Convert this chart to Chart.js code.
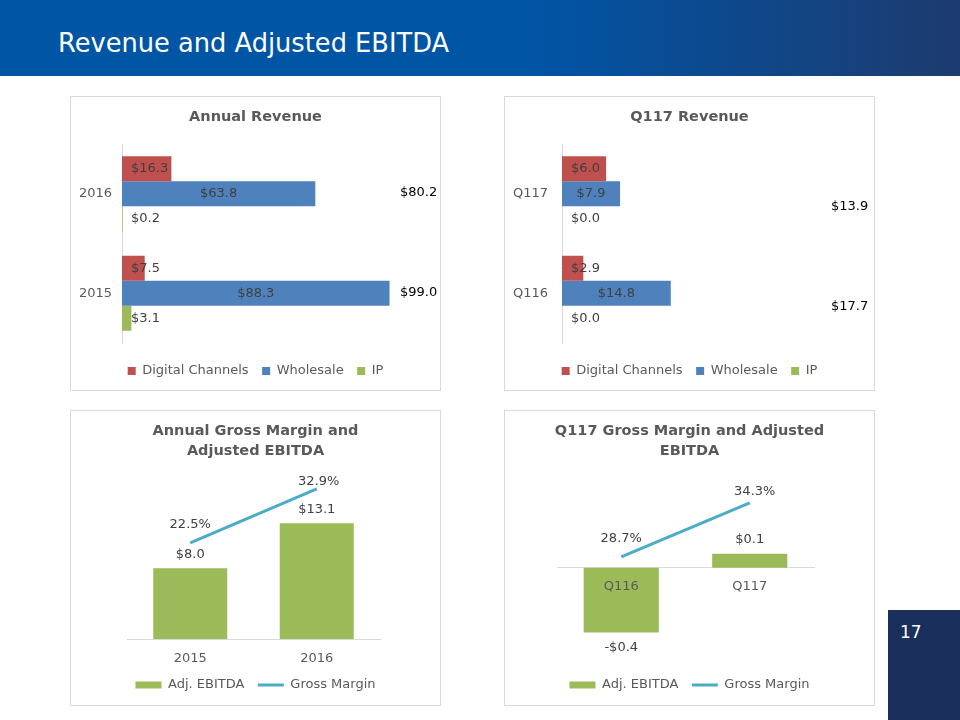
<!DOCTYPE html>
<html>
<head>
<meta charset="utf-8">
<title>Revenue and Adjusted EBITDA</title>
<script src="https://cdn.jsdelivr.net/npm/chart.js@4.4.0/dist/chart.umd.min.js"></script>
<style>
  body {
    margin: 0;
    width: 960px;
    height: 720px;
    position: relative;
    overflow: hidden;
    background: #fff;
    font-family: "DejaVu Sans", sans-serif;
  }
  #header {
    position: absolute;
    left: 0; top: 0;
    width: 960px; height: 76px;
    background: linear-gradient(90deg, #0055a5 0%, #0055a5 55%, #1d3b6f 100%);
  }
  #header h1 {
    position: absolute;
    margin: 0;
    left: 58px; top: 28px;
    font-size: 25.7px;
    font-weight: normal;
    color: #fff;
  }
  .panel {
    position: absolute;
    border: 1px solid #d9d9d9;
  }
  .panel canvas { display: block; }
  #page {
    position: absolute;
    left: 888px; top: 610px;
    width: 72px; height: 110px;
    background: #1b2f5c;
    color: #fff;
    font-size: 17px;
  }
  #page span { position: absolute; left: 12px; top: 12px; }
</style>
</head>
<body>
<div id="header"><h1>Revenue and Adjusted EBITDA</h1></div>

<div class="panel" style="left:70px; top:96px;"><canvas id="annualRev" width="369" height="293"></canvas></div>
<div class="panel" style="left:504px; top:96px;"><canvas id="qRev" width="369" height="293"></canvas></div>
<div class="panel" style="left:70px; top:410px;"><canvas id="annualMargin" width="369" height="294"></canvas></div>
<div class="panel" style="left:504px; top:410px;"><canvas id="qMargin" width="369" height="294"></canvas></div>

<div id="page"><span>17</span></div>

<script>
// annual revenue ($M)
const annualYears = ['2016', '2015'];
const annualDigital = [16.3, 7.5];
const annualWholesale = [63.8, 88.3];
const annualIP = [0.2, 3.1];
const annualTotals = [80.2, 99.0];

// Q1 revenue ($M)
const quarters = ['Q117', 'Q116'];
const qDigital = [6.0, 2.9];
const qWholesale = [7.9, 14.8];
const qIP = [0.0, 0.0];
const qTotals = [13.9, 17.7];

// annual gross margin (%) and adj. EBITDA ($M)
const marginYears = ['2015', '2016'];
const annualEbitda = [8.0, 13.1];
const annualGrossMargin = [22.5, 32.9];

// Q1 gross margin (%) and adj. EBITDA ($M)
const marginQuarters = ['Q116', 'Q117'];
const qEbitda = [-0.42, 0.09];
const qGrossMargin = [28.7, 34.3];

const RED = '#c0504d', BLUE = '#4f81bd', GREEN = '#9bbb59', TEAL = '#4bacc6';
const FONT = '"DejaVu Sans", sans-serif';
const GREY = '#595959';

Chart.defaults.font.family = FONT;
Chart.defaults.color = GREY;

const money = v => (v < 0 ? '-$' : '$') + Math.abs(v).toFixed(1);
const pct = v => v.toFixed(1) + '%';

// draws the data labels + the total boxes
const valueLabels = {
  id: 'valueLabels',
  afterDatasetsDraw(chart, args, opts) {
    const ctx = chart.ctx;
    ctx.save();
    ctx.font = '13px ' + FONT;
    ctx.textBaseline = 'middle';
    chart.data.datasets.forEach((ds, di) => {
      const meta = chart.getDatasetMeta(di);
      meta.data.forEach((el, i) => {
        const v = ds.data[i];
        let x = el.x, y = el.y;
        ctx.fillStyle = '#404040';
        ctx.textAlign = 'center';
        if (ds.labelAt === 'center') {
          x = (el.x + el.base) / 2;
        } else if (ds.labelAt === 'base') {
          x = el.base + 9;
          ctx.textAlign = 'left';
        } else if (ds.labelAt === 'outside') {
          y = v < 0 ? el.y + 15 : el.y - 14;
        } else if (ds.labelAt === 'above') {
          const s = (opts.lineShift || [])[i] || [0, -16];
          x += s[0];
          y += s[1];
        }
        ctx.fillText(ds.fmt === 'pct' ? pct(v) : money(v), x, y);
      });
    });
    if (opts.totals) {
      ctx.font = '13px ' + FONT;
      ctx.fillStyle = '#000';
      ctx.textAlign = 'left';
      const ys = chart.scales.y;
      opts.totals.forEach((t, i) => {
        ctx.fillText(money(t), opts.totalsX, ys.getPixelForValue(i) + opts.totalsDy);
      });
    }
    ctx.restore();
  }
};

function titleOpts(text, padTop, padBottom) {
  return {
    display: true,
    text: text,
    color: GREY,
    font: { size: 14.5, weight: 'bold', lineHeight: '20px' },
    padding: { top: padTop, bottom: padBottom }
  };
}

// an axis that only reserves room, draws nothing
function spacer(position, size) {
  return {
    position: position,
    display: true,
    ticks: { display: false },
    grid: { display: false, drawTicks: false },
    border: { display: false },
    afterFit: s => {
      if (position === 'left' || position === 'right') s.width = size;
      else s.height = size;
    }
  };
}

function revenueChart(id, labels, digital, wholesale, ip, totals, xMax, opt) {
  const x = spacer('bottom', 8);
  x.min = 0;
  x.max = xMax;
  return new Chart(document.getElementById(id), {
    type: 'bar',
    data: {
      labels: labels,
      datasets: [
        { label: 'Digital Channels', data: digital, backgroundColor: RED, labelAt: 'base' },
        { label: 'Wholesale', data: wholesale, backgroundColor: BLUE, labelAt: 'center' },
        { label: 'IP', data: ip, backgroundColor: GREEN, labelAt: 'base' }
      ]
    },
    options: {
      indexAxis: 'y',
      responsive: false,
      animation: false,
      categoryPercentage: 0.754,
      barPercentage: 1.0,
      layout: { padding: { bottom: 2.5 } },
      scales: {
        y: {
          grid: { display: false, drawTicks: false },
          border: { color: '#d9d9d9' },
          ticks: { color: GREY, font: { size: 13 }, padding: opt.tickPad },
          afterFit: s => { s.width = opt.axisLeft; }
        },
        x: x,
        yRight: spacer('right', opt.padRight)
      },
      plugins: {
        title: titleOpts(opt.title, 10, 17),
        legend: {
          position: 'bottom',
          labels: { color: GREY, font: { size: 13 }, boxWidth: 8, boxHeight: 8, padding: 13.5 }
        },
        tooltip: { enabled: false },
        valueLabels: { totals: totals, totalsX: opt.totalsX, totalsDy: opt.totalsDy }
      }
    },
    plugins: [valueLabels]
  });
}

revenueChart('annualRev', annualYears, annualDigital, annualWholesale, annualIP, annualTotals, 100,
  { title: 'Annual Revenue', padRight: 15, axisLeft: 51, tickPad: 10, totalsX: 329, totalsDy: -1 });

revenueChart('qRev', quarters, qDigital, qWholesale, qIP, qTotals, 30,
  { title: 'Q117 Revenue', padRight: 91.5, axisLeft: 57, tickPad: 14, totalsX: 326, totalsDy: 13 });

function marginChart(id, labels, ebitda, margin, opt) {
  const y = spacer('left', opt.padLeft);
  y.min = opt.yMin;
  y.max = opt.yMax;
  const y2 = spacer('right', opt.padRight);
  y2.min = opt.y2Min;
  y2.max = opt.y2Max;
  return new Chart(document.getElementById(id), {
    type: 'bar',
    data: {
      labels: labels,
      datasets: [
        { type: 'bar', label: 'Adj. EBITDA', data: ebitda, backgroundColor: GREEN, borderWidth: 0,
          pointStyle: 'rect', labelAt: 'outside', yAxisID: 'y' },
        { type: 'line', label: 'Gross Margin', data: margin, borderColor: TEAL, backgroundColor: TEAL,
          borderWidth: 3, pointRadius: 0, pointStyle: 'line', tension: 0, clip: false,
          labelAt: 'above', fmt: 'pct', yAxisID: 'y2' }
      ]
    },
    options: {
      responsive: false,
      animation: false,
      categoryPercentage: 1.0,
      barPercentage: 0.585,
      layout: { padding: { bottom: 3.5 } },
      scales: {
        x: opt.xAxis,
        y: y,
        y2: y2
      },
      plugins: {
        title: titleOpts(opt.title, 10, opt.titleGap),
        legend: {
          position: 'bottom',
          labels: { color: GREY, font: { size: 13 }, usePointStyle: true, pointStyleWidth: 26,
                    boxHeight: 7, padding: 13.5 }
        },
        tooltip: { enabled: false },
        valueLabels: { lineShift: opt.lineShift }
      }
    },
    plugins: [valueLabels]
  });
}

marginChart('annualMargin', marginYears, annualEbitda, annualGrossMargin, {
  title: ['Annual Gross Margin and', 'Adjusted EBITDA'],
  titleGap: 19, padLeft: 56, padRight: 60,
  yMin: 0, yMax: 18, y2Min: 4.0, y2Max: 34.6,
  lineShift: [[0, -18], [2, -7]],
  xAxis: {
    grid: { display: false, drawTicks: false },
    border: { color: '#d9d9d9' },
    ticks: { color: GREY, font: { size: 13 }, padding: 12 },
    afterFit: s => { s.height = 26; }
  }
});

marginChart('qMargin', marginQuarters, qEbitda, qGrossMargin, {
  title: ['Q117 Gross Margin and Adjusted', 'EBITDA'],
  titleGap: 14, padLeft: 52, padRight: 60,
  yMin: -0.63, yMax: 0.6, y2Min: 17.5, y2Max: 37.2,
  lineShift: [[0, -18], [5, -11]],
  xAxis: {
    position: { y: 0 },
    grid: { display: false, drawTicks: false },
    border: { color: '#d9d9d9' },
    ticks: { color: GREY, font: { size: 13 }, padding: 11, z: 1 }
  }
});
</script>
</body>
</html>
